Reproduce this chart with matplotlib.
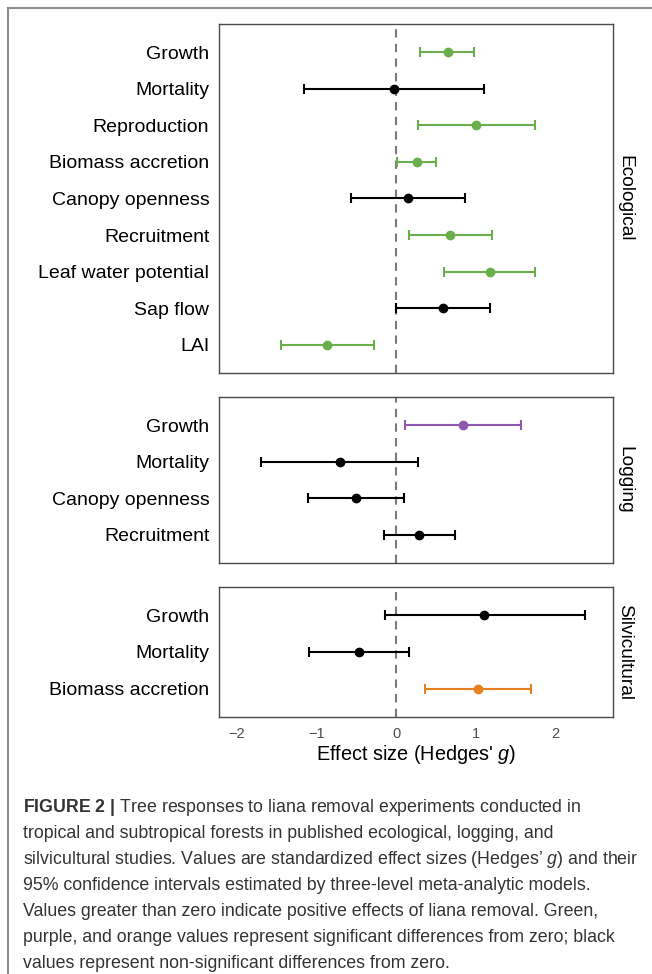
import matplotlib
matplotlib.use("Agg")
import matplotlib.pyplot as plt
from matplotlib.lines import Line2D

plt.rcParams['font.family'] = ['Liberation Sans', 'DejaVu Sans']
plt.rcParams['mathtext.fontset'] = 'custom'
plt.rcParams['mathtext.rm'] = 'Liberation Sans'
plt.rcParams['mathtext.it'] = 'Liberation Sans:italic'
plt.rcParams['mathtext.bf'] = 'Liberation Sans:bold'

# ---------------- data ----------------
eco_labels = ["Growth", "Mortality", "Reproduction", "Biomass accretion", "Canopy openness",
              "Recruitment", "Leaf water potential", "Sap flow", "LAI"]
eco_est = [0.65, -0.03, 1.01, 0.26, 0.15, 0.68, 1.18, 0.59, -0.87]
eco_lo = [0.30, -1.16, 0.27, 0.01, -0.57, 0.16, 0.60, 0.00, -1.45]
eco_hi = [0.98, 1.11, 1.75, 0.50, 0.87, 1.21, 1.75, 1.18, -0.28]
eco_sig = [True, False, True, True, False, True, True, False, True]

log_labels = ["Growth", "Mortality", "Canopy openness", "Recruitment"]
log_est = [0.84, -0.70, -0.51, 0.29]
log_lo = [0.11, -1.70, -1.11, -0.15]
log_hi = [1.57, 0.28, 0.10, 0.74]
log_sig = [True, False, False, False]

sil_labels = ["Growth", "Mortality", "Biomass accretion"]
sil_est = [1.11, -0.46, 1.03]
sil_lo = [-0.14, -1.09, 0.36]
sil_hi = [2.37, 0.16, 1.69]
sil_sig = [False, False, True]

panel_names = ["Ecological", "Logging", "Silvicultural"]
panel_colors = ["#6aaf4b", "#8e58ae", "#e8801f"]
x_ticks = [-2, -1, 0, 1, 2]
x_label = r"Effect size (Hedges' $\mathit{g}$)"

caption_lines = [
    r"$\mathbf{FIGURE\ 2\ |}$ Tree responses to liana removal experiments conducted in",
    "tropical and subtropical forests in published ecological, logging, and",
    r"silvicultural studies. Values are standardized effect sizes (Hedges’ $\mathit{g}$) and their",
    "95% confidence intervals estimated by three-level meta-analytic models.",
    "Values greater than zero indicate positive effects of liana removal. Green,",
    "purple, and orange values represent significant differences from zero; black",
    "values represent non-significant differences from zero.",
]

panels = [
    (eco_labels, eco_est, eco_lo, eco_hi, eco_sig),
    (log_labels, log_est, log_lo, log_hi, log_sig),
    (sil_labels, sil_est, sil_lo, sil_hi, sil_sig),
]

# ---------------- figure ----------------
W, H = 652, 974
fig = plt.figure(figsize=(W / 100, H / 100), dpi=100)

# panel pixel boxes (top, bottom)
boxes = [(24, 373), (397, 563), (587, 717)]
left_px, right_px = 219, 613
pad = 0.77
xlim = (-2.225, 2.725)

border_col = "#4a4a4a"
axes = []
for k, ((labels, est, lo, hi, sig), (top, bot)) in enumerate(zip(panels, boxes)):
    ax = fig.add_axes([left_px / W, 1 - bot / H, (right_px - left_px) / W, (bot - top) / H])
    n = len(labels)
    ys = [n - i for i in range(n)]
    ax.axvline(0, color="#7a7a7a", lw=1.5, ls=(0, (4, 3)), zorder=1)
    for y, e, l, h, s in zip(ys, est, lo, hi, sig):
        c = panel_colors[k] if s else "black"
        ax.errorbar([e], [y], xerr=[[e - l], [h - e]], fmt="o", color=c, ms=6,
                    elinewidth=1.5, capsize=3.5, capthick=1.5, zorder=3)
    ax.set_ylim(1 - pad, n + pad)
    ax.set_xlim(*xlim)
    ax.set_yticks(ys)
    ax.set_yticklabels(labels, fontsize=14, color="black")
    ax.set_xticks(x_ticks)
    ax.tick_params(axis="both", length=0)
    ax.tick_params(axis="y", pad=7)
    if k < 2:
        ax.set_xticklabels([])
    else:
        ax.set_xticklabels([str(t).replace("-", "\u2212") for t in x_ticks], fontsize=10.5,
                           color="#4d4d4d")
        ax.tick_params(axis="x", pad=7)
        ax.set_xlabel(x_label, fontsize=14.3, labelpad=2)
    for sp in ax.spines.values():
        sp.set_color(border_col)
        sp.set_linewidth(1.0)
    ax.text(1.0 + 12 / (right_px - left_px), 0.5, panel_names[k], transform=ax.transAxes,
            rotation=270, ha="center", va="center", fontsize=13.8)
    axes.append(ax)

# outer frame (top and left)
frame_col = "#8c8c8c"
fig.add_artist(Line2D([8 / W, 1.0], [1 - 8 / H, 1 - 8 / H], transform=fig.transFigure,
                      color=frame_col, lw=1.5))
fig.add_artist(Line2D([8 / W, 8 / W], [0.0, 1 - 8 / H], transform=fig.transFigure,
                      color=frame_col, lw=1.5))

# caption
y0 = 808
for i, line in enumerate(caption_lines):
    fig.text(23 / W, 1 - (y0 + 26 * i) / H, line, ha="left", va="center",
             fontsize=12.8, color="#333333")

fig.savefig("out.png", dpi=100)
